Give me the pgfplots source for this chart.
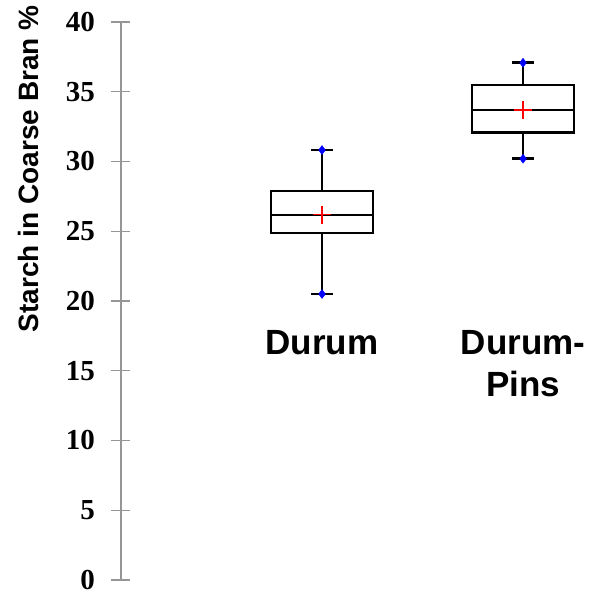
\documentclass[border=0pt]{standalone}
\usepackage{fontspec}
\setmainfont{Liberation Sans}
\newfontfamily\tnr{Liberation Serif}
\usepackage{pgfplots}
\pgfplotsset{compat=1.18}
\definecolor{axisgray}{RGB}{150,150,150}

\begin{document}
\begin{tikzpicture}
\begin{axis}[
  at={(0,0)}, anchor=south west,
  width=473pt, height=558pt, scale only axis,
  xmin=0, xmax=2.353,
  ymin=0, ymax=40,
  axis lines*=left,
  x axis line style={draw=none},
  y axis line style={draw=axisgray, line width=1.3pt},
  ytick={0,5,...,40},
  xtick=\empty,
  tick align=center,
  major tick length=19pt,
  y tick style={draw=axisgray, line width=1.3pt},
  /pgf/number format/assume math mode=true,
  yticklabel style={font=\tnr\bfseries\fontsize{29}{29}\selectfont, xshift=-13pt},
  ylabel={Starch in Coarse Bran \%},
  ylabel style={font=\bfseries\fontsize{28}{28}\selectfont,
    at={(axis description cs:-0.195,0.737)}, anchor=center},
  clip=false,
  unbounded coords=jump,
]
% boxes: lower quartile to upper quartile, box width 0.507
\addplot[black, line width=2.7pt, line join=miter, mark=none]
  coordinates {(0.7465,24.87)(1.2535,24.87)(1.2535,27.89)(0.7465,27.89)} -- cycle;
\addplot[black, line width=2.7pt, line join=miter, mark=none]
  coordinates {(1.7465,32.09)(2.2535,32.09)(2.2535,35.48)(1.7465,35.48)} -- cycle;
% medians
\addplot[black, line width=2.5pt, mark=none]
  coordinates {(0.7465,26.16)(1.2535,26.16) (1.5,nan) (1.7465,33.69)(2.2535,33.69)};
% whiskers and caps
\addplot[black, line width=2.5pt, mark=none]
  coordinates {
  (1,20.50)(1,24.87) (1,nan) (1,27.89)(1,30.82) (1,nan)
  (0.945,20.50)(1.055,20.50) (1,nan) (0.945,30.82)(1.055,30.82) (1,nan)
  (2,30.20)(2,32.09) (2,nan) (2,35.48)(2,37.08) (2,nan)
  (1.945,30.20)(2.055,30.20) (2,nan) (1.945,37.08)(2.055,37.08)};
% whisker ends
\addplot[only marks, mark=diamond*, mark size=4.5pt, color=blue]
  coordinates {(1,20.50)(1,30.82)(2,30.20)(2,37.08)};
% means
\addplot[only marks, mark=+, mark size=9pt, color=red, line width=1.5pt]
  coordinates {(1,26.2)(2,33.7)};

\node[anchor=base, font=\bfseries\fontsize{35}{42}\selectfont] at (axis cs:1,16.13) {Durum};
\node[anchor=base, font=\bfseries\fontsize{35}{42}\selectfont] at (axis cs:2,16.13) {Durum-};
\node[anchor=base, font=\bfseries\fontsize{35}{42}\selectfont] at (axis cs:2,13.12) {Pins};
\end{axis}
\pgfresetboundingbox
\useasboundingbox (-121pt,-13pt) rectangle (474pt,580pt);
\end{tikzpicture}
\end{document}
